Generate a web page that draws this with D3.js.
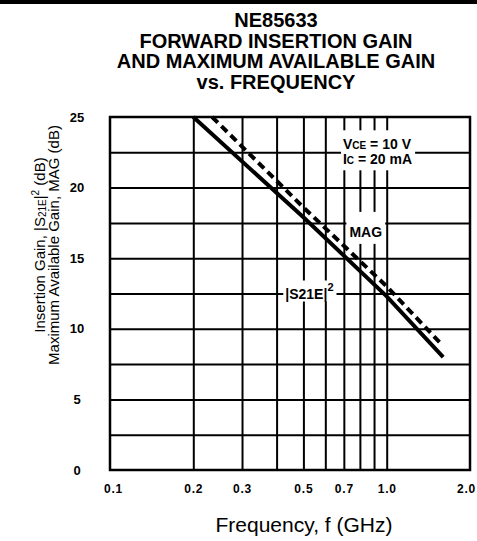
<!DOCTYPE html>
<html><head><meta charset="utf-8">
<script src="https://cdn.jsdelivr.net/npm/d3@7"></script>
<style>
body{margin:0;background:#fff}
svg{display:block;font-family:"Liberation Sans",Arial,Helvetica,sans-serif}
</style>
</head><body><div id="chart"></div>
<script>
// ---- data ----
const titleLines = ["NE85633", "FORWARD INSERTION GAIN", "AND MAXIMUM AVAILABLE GAIN", "vs. FREQUENCY"];
const yTicks = [0, 5, 10, 15, 20, 25];
const yGrid = [2.5, 5, 7.5, 10, 12.5, 15, 17.5, 20, 22.5];
const xTicks = [0.1, 0.2, 0.3, 0.5, 0.7, 1.0, 2.0];
const xTickLabels = ["0.1", "0.2", "0.3", "0.5", "0.7", "1.0", "2.0"];
const xGrid = [0.2, 0.3, 0.4, 0.5, 0.6, 0.7, 0.8, 0.9, 1.0];
const s21Freq = [0.2, 0.5, 1.0, 1.6];
const s21Gain = [25, 17.9, 12.3, 8.0];
const magFreq = [0.234, 0.5, 1.0, 1.56];
const magGain = [25, 18.6, 13.0, 9.0];

// ---- layout ----
const W = 477, H = 541;
const L = 110, R = 470, T = 117, B = 470;
const x = d3.scaleLog().domain([0.1, 2.0]).range([L, R]);
const y = d3.scaleLinear().domain([0, 25]).range([B, T]);

const svg = d3.select("#chart").append("svg").attr("width", W).attr("height", H);
svg.append("rect").attr("width", W).attr("height", H).attr("fill", "#fff");

// top rule
svg.append("rect").attr("x", 0).attr("y", 0).attr("width", W).attr("height", 4).attr("fill", "#000");

// title
svg.append("g").selectAll("text").data(titleLines).join("text")
  .attr("x", 276).attr("y", (d, i) => 27 + i * 20.5)
  .attr("text-anchor", "middle").attr("font-size", 20).attr("font-weight", "bold")
  .text(d => d);

// grid
const gx = svg.append("g").attr("transform", `translate(0,${B})`)
  .call(d3.axisBottom(x).tickValues(xGrid).tickSize(-(B - T)).tickFormat(""));
gx.select(".domain").remove();
gx.selectAll("line").attr("stroke", "#000").attr("stroke-width", 2);

const gy = svg.append("g").attr("transform", `translate(${L},0)`)
  .call(d3.axisLeft(y).tickValues(yGrid).tickSize(-(R - L)).tickFormat(""));
gy.select(".domain").remove();
gy.selectAll("line").attr("stroke", "#000").attr("stroke-width", 2);

// annotations with white backgrounds
function annot(g, pad) {
  const bb = g.node().getBBox();
  g.insert("rect", ":first-child")
    .attr("x", bb.x - pad[0]).attr("y", bb.y - pad[1])
    .attr("width", bb.width + pad[0] + pad[2]).attr("height", bb.height + pad[1] + pad[3])
    .attr("fill", "#fff");
}
const ann = svg.append("g").attr("font-weight", "bold").attr("font-size", 14);

const lg = ann.append("g");
const t1 = lg.append("text").attr("x", x(0.695)).attr("y", y(22.5) - 3);
t1.append("tspan").text("V");
t1.append("tspan").attr("font-size", 10).text("CE");
t1.append("tspan").text(" = 10 V");
const t2 = lg.append("text").attr("x", x(0.695)).attr("y", y(22.5) + 12);
t2.append("tspan").text("I");
t2.append("tspan").attr("font-size", 10).text("C");
t2.append("tspan").text(" = 20 mA");
annot(lg, [2, 6, 3, 3]);

const mg = ann.append("g");
mg.append("text").attr("x", x(0.84)).attr("y", y(17.5) + 14).attr("text-anchor", "middle").text("MAG");
annot(mg, [3, 12, 3, 4]);

const sg = ann.append("g");
const t3 = sg.append("text").attr("x", x(0.43)).attr("y", y(12.5) + 5);
t3.append("tspan").text("|S21E|");
t3.append("tspan").attr("font-size", 11).attr("dy", -8).text("2");
annot(sg, [2, 0, 3, 0]);

// curves
const line = d3.line().x(d => x(d[0])).y(d => y(d[1]));
svg.append("path").datum(s21Freq.map((f, i) => [f, s21Gain[i]]))
  .attr("d", line).attr("fill", "none").attr("stroke", "#000").attr("stroke-width", 4);
svg.append("path").datum(magFreq.map((f, i) => [f, magGain[i]]))
  .attr("d", line).attr("fill", "none").attr("stroke", "#000").attr("stroke-width", 4)
  .attr("stroke-dasharray", "8,5");

// frame
svg.append("rect").attr("x", L).attr("y", T).attr("width", R - L).attr("height", B - T)
  .attr("fill", "none").attr("stroke", "#000").attr("stroke-width", 2.5);

// y tick labels
const ya = svg.append("g").attr("transform", `translate(${L},0)`)
  .call(d3.axisLeft(y).tickValues(yTicks).tickSize(0).tickPadding(0));
ya.select(".domain").remove();
ya.selectAll("text").attr("x", -33).attr("text-anchor", "middle")
  .attr("font-family", "'Liberation Sans Narrow','Liberation Sans',Arial,sans-serif")
  .attr("font-size", 13).attr("font-weight", "bold").attr("fill", "#000");

// x tick labels
const xa = svg.append("g").attr("transform", `translate(0,${B})`)
  .call(d3.axisBottom(x).tickValues(xTicks).tickFormat((d, i) => xTickLabels[i]).tickSize(0).tickPadding(14));
xa.select(".domain").remove();
xa.selectAll("text").attr("font-family", "'Liberation Sans',Arial,sans-serif")
  .attr("font-size", 12).attr("font-weight", "bold").attr("letter-spacing", 0.8).attr("fill", "#000")
  .attr("dx", (d, i) => i === xTicks.length - 1 ? -4 : (i === 0 ? 3 : 0));

// axis titles
const yt = svg.append("g").attr("transform", "translate(45,245) rotate(-90)")
  .attr("font-size", 15).attr("text-anchor", "middle");
const l1 = yt.append("text").attr("x", 0).attr("y", 0);
l1.append("tspan").text("Insertion Gain, |S");
l1.append("tspan").attr("font-size", 10).attr("dy", 1).text("21E");
l1.append("tspan").attr("dy", -1).text("|");
l1.append("tspan").attr("font-size", 10).attr("dy", -6).text("2");
l1.append("tspan").attr("dy", 6).text(" (dB)");
yt.append("text").attr("x", 0).attr("y", 14).text("Maximum Available Gain, MAG (dB)");

svg.append("text").attr("x", 304).attr("y", 532).attr("text-anchor", "middle")
  .attr("font-size", 21).text("Frequency, f (GHz)");
</script>
</body></html>
